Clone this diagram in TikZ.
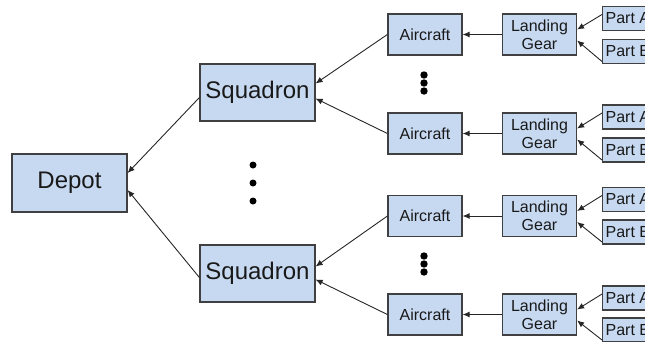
\documentclass[tikz,border=0pt]{standalone}
\usepackage{fontspec}
\setmainfont{Liberation Sans}
\usetikzlibrary{arrows.meta}

\definecolor{boxfill}{RGB}{198,217,241}
\definecolor{boxline}{RGB}{64,64,64}

\begin{document}
\begin{tikzpicture}[x=1pt, y=-1pt,
        box/.style={draw=boxline, fill=boxfill, line width=1.2pt, inner sep=0pt, text=black!90},
        big/.style={box, minimum width=115pt, minimum height=57pt, font=\fontsize{24}{28}\selectfont},
        small/.style={box, minimum width=74pt, minimum height=41pt, align=center, font=\fontsize{16}{18}\selectfont},
        part/.style={box, anchor=west, inner xsep=3pt, minimum height=24pt, font=\fontsize{16}{18}\selectfont},
        arr/.style={-{Latex[length=7pt,width=6pt]}, line width=0.9pt, black!85}]
        \clip (0,0) rectangle (645,341);

        \node[big, minimum height=58pt] (depot) at (69.5,183) {Depot};
        \node[big] (sq1) at (257.5,92.5) {Squadron};
        \node[big] (sq2) at (257.5,273.5) {Squadron};

        \node[small] (ac1) at (425,34.5) {Aircraft};
        \node[small] (lg1) at (539.5,34.5) {Landing\\Gear};
        \node[part] (pa1) at (602,18.5) {Part A};
        \node[part] (pb1) at (602,51.5) {Part B};

        \node[small] (ac2) at (425,133.5) {Aircraft};
        \node[small] (lg2) at (539.5,133.5) {Landing\\Gear};
        \node[part] (pa2) at (602,117) {Part A};
        \node[part] (pb2) at (602,150) {Part B};

        \node[small] (ac3) at (425,216) {Aircraft};
        \node[small] (lg3) at (539.5,216) {Landing\\Gear};
        \node[part] (pa3) at (602,199.5) {Part A};
        \node[part] (pb3) at (602,232) {Part B};

        \node[small] (ac4) at (425,314.5) {Aircraft};
        \node[small] (lg4) at (539.5,314.5) {Landing\\Gear};
        \node[part] (pa4) at (602,298) {Part A};
        \node[part] (pb4) at (602,330) {Part B};

        \fill[black] (253,165) circle (3.5) (253,183) circle (3.5) (253,201) circle (3.5);
        \fill[black] (424,75) circle (3.7) (424,83) circle (3.7) (424,91) circle (3.7);
        \fill[black] (424,256) circle (3.7) (424,264) circle (3.7) (424,272) circle (3.7);

        \draw[arr] ([yshift=-5pt]sq1.west) -- ([yshift=10pt]depot.east);
        \draw[arr] ([yshift=-4pt]sq2.west) -- ([yshift=-7pt]depot.east);

        \draw[arr] (ac1.west) -- ([yshift=9pt]sq1.east);
        \draw[arr] (ac2.west) -- ([yshift=-6pt]sq1.east);
        \draw[arr] (ac3.west) -- ([yshift=7pt]sq2.east);
        \draw[arr] (ac4.west) -- ([yshift=-6pt]sq2.east);

        \draw[arr] (lg1.west) -- (ac1.east);
        \draw[arr] (lg2.west) -- (ac2.east);
        \draw[arr] (lg3.west) -- (ac3.east);
        \draw[arr] (lg4.west) -- (ac4.east);

        \draw[arr] ([yshift=4pt]pa1.west) -- ([yshift=5pt]lg1.east);
        \draw[arr] ([yshift=-10pt]pb1.west) -- ([yshift=-6pt]lg1.east);
        \draw[arr] ([yshift=4pt]pa2.west) -- ([yshift=5pt]lg2.east);
        \draw[arr] ([yshift=-10pt]pb2.west) -- ([yshift=-6pt]lg2.east);
        \draw[arr] ([yshift=4pt]pa3.west) -- ([yshift=5pt]lg3.east);
        \draw[arr] ([yshift=-10pt]pb3.west) -- ([yshift=-6pt]lg3.east);
        \draw[arr] ([yshift=4pt]pa4.west) -- ([yshift=5pt]lg4.east);
        \draw[arr] ([yshift=-10pt]pb4.west) -- ([yshift=-6pt]lg4.east);
    \end{tikzpicture}
\end{document}
